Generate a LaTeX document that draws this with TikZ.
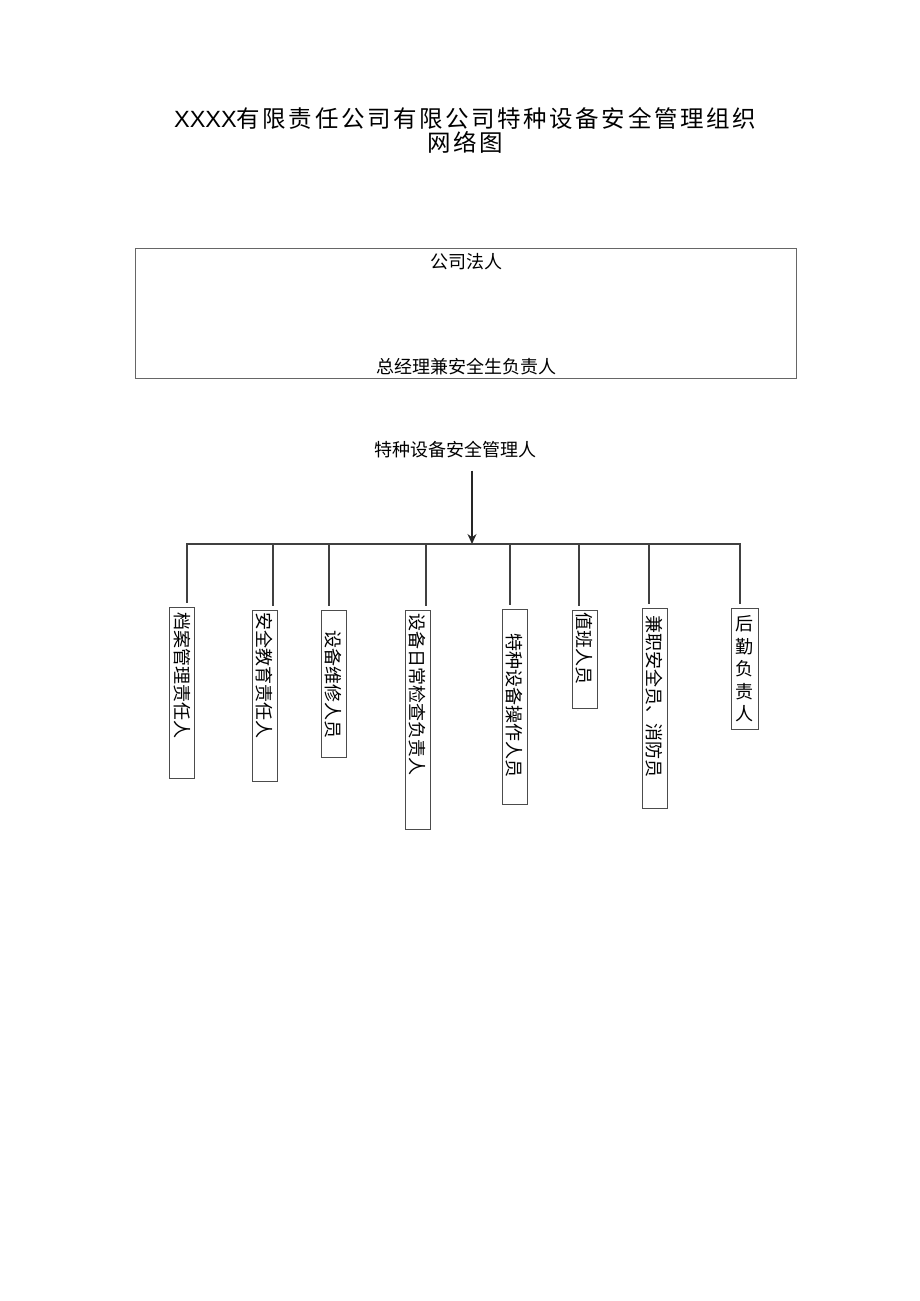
\documentclass[tikz,border=0pt]{standalone}
\usepackage{fontspec}
\setmainfont{Liberation Sans}
\newfontfamily\cjk{Noto Sans CJK SC}
\newfontfamily\cjktitle[LetterSpace=11]{Noto Sans CJK SC}
\usetikzlibrary{calc,arrows.meta,positioning}

\tikzset{
  branch/.style={draw=black!75, line width=1.3pt, line cap=rect},
  vbox/.style={draw=black!70, line width=0.8pt, rotate=-90, anchor=west,
    minimum height=25pt, inner ysep=0pt, align=left,
    font=\cjk\fontsize{18}{18}\selectfont},
  label/.style={font=\cjk\fontsize{18}{18}\selectfont, inner sep=2pt},
}

\begin{document}
\begin{tikzpicture}[x=1pt, y=-1pt]
  \useasboundingbox (0,0) rectangle (920,1301);

  % Título
  \node[align=center, font=\fontsize{23.5}{24}\selectfont] (title) at (465,130)
    {XXXX{\cjktitle 有限责任公司有限公司特种设备安全管理组织}\\{\cjktitle 网络图}};

  % Caja superior
  \node[draw=black!60, line width=0.8pt, minimum width=661pt, minimum height=130pt] (corp) at (465.5,313) {};
  \node[label] (legal) at (466,262) {公司法人};
  \node[label] (gm) at (466,367) {总经理兼安全生负责人};

  % Responsable
  \node[label] (mgr) at (455,450) {特种设备安全管理人};
  \coordinate (hub) at (472,544);
  \draw[black!85, line width=1.3pt, shorten <=10pt, -{Stealth[length=10pt,width=9pt]}]
    (hub |- mgr.south) -- (hub);

  % Cajas
  \foreach \n/\x/\t/\l/\o/\txt in {
      1/182.3/607/171/5/档案管理责任人,
      2/264.5/610/171/2/安全教育责任人,
      3/333.5/610/147/20/设备维修人员,
      4/417.5/610/219/3/设备日常检查负责人,
      5/514.5/609/195/24/特种设备操作人员,
      6/584.5/610/98/2/值班人员,
      7/654.5/608/200/7/兼职安全员、消防员} {
    \pgfmathsetmacro\tw{\l-2*\o}
    \node[vbox, minimum width=\l pt, inner xsep=\o pt, text width=\tw pt] (b\n) at (\x,\t) {\txt};
  }
  \node[draw=black!70, line width=0.8pt, anchor=north, minimum width=27pt, minimum height=121pt,
    inner sep=0pt, align=center, font=\cjk\fontsize{18}{22.4}\selectfont] (b8) at (744.5,608)
    {后\\勤\\负\\责\\人};

  % Barra
  \foreach \n/\bx in {1/187,2/273,3/329,4/426,5/510,6/579,7/649,8/740}
    \coordinate (t\n) at (\bx,544);
  \draw[branch] (t1) -- (t8);
  \foreach \n/\a in {1/west,2/west,3/west,4/west,5/west,6/west,7/west,8/north}
    \draw[branch, shorten >=5pt] (t\n) -- (t\n |- b\n.\a);
\end{tikzpicture}
\end{document}
